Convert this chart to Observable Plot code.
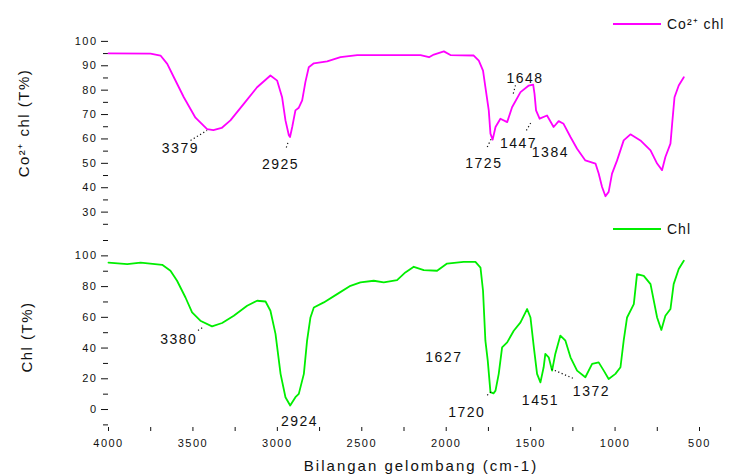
<!DOCTYPE html>
<html><head><meta charset="utf-8">
<script src="https://cdn.jsdelivr.net/npm/d3@7"></script>
<script src="https://cdn.jsdelivr.net/npm/@observablehq/plot@0.6"></script>
<style>
body{margin:0;background:#fff;font-family:"Liberation Sans",Arial,sans-serif;}
#wrap{position:relative;width:742px;height:475px;overflow:hidden;background:#fff;}
#topPanel,#botPanel{position:absolute;left:0;}
#topPanel{top:0}
#botPanel{top:237px}
.ylab{position:absolute;font-size:15px;letter-spacing:1.5px;white-space:nowrap;transform:translate(-50%,-50%) rotate(-90deg);color:#111;}
.xlab{position:absolute;font-size:15px;letter-spacing:2px;white-space:nowrap;transform:translate(-50%,-50%);color:#111;}
.leg{position:absolute;font-size:14px;letter-spacing:1px;white-space:nowrap;display:flex;align-items:center;color:#111;}
.leg span.sw{display:inline-block;width:48px;height:2px;margin-right:6px;}
</style>
</head><body>
<div id="wrap">
  <div id="topPanel"></div>
  <div id="botPanel"></div>
  <div class="ylab" style="left:23px;top:123px">Co²⁺ chl (T%)</div>
  <div class="ylab" style="left:26px;top:337px">Chl (T%)</div>
  <div class="xlab" style="left:421px;top:465px">Bilangan gelombang (cm-1)</div>
  <div class="leg" style="left:613px;top:14px"><span class="sw" style="background:#ff00ff"></span>Co²⁺ chl</div>
  <div class="leg" style="left:613px;top:221px"><span class="sw" style="background:#00ee00"></span>Chl</div>
</div>
<script>
// ---- Co2+ chlorophyll spectrum (top panel) ----
const coWave = [4000, 3751, 3692, 3652, 3613, 3554, 3485, 3416, 3379, 3330, 3278, 3199, 3120, 3041, 3001, 2972, 2952, 2932, 2925, 2912, 2893, 2873, 2853, 2834, 2814, 2784, 2705, 2626, 2527, 2152, 2102, 2073, 2014, 1975, 1837, 1807, 1782, 1768, 1748, 1738, 1725, 1708, 1679, 1639, 1610, 1560, 1511, 1485, 1477, 1468, 1447, 1403, 1364, 1334, 1305, 1264, 1225, 1176, 1116, 1097, 1077, 1057, 1038, 1018, 988, 949, 909, 850, 790, 751, 722, 702, 672, 662, 648, 623, 593];
const coT = [95.1, 95.0, 94.2, 90.8, 85.3, 77.1, 68.7, 64.0, 63.6, 64.5, 67.6, 74.4, 81.2, 86.0, 83.9, 77.1, 67.6, 61.5, 60.8, 64.9, 71.7, 72.8, 75.8, 83.3, 89.4, 91.0, 91.8, 93.5, 94.4, 94.4, 93.5, 94.6, 95.9, 94.4, 94.2, 92.1, 88.0, 81.2, 71.7, 62.2, 59.7, 64.9, 68.3, 66.9, 73.0, 79.2, 81.9, 82.3, 78.5, 71.7, 68.3, 69.6, 64.9, 67.3, 66.2, 60.8, 56.0, 51.2, 49.9, 45.8, 40.3, 36.5, 38.3, 45.8, 51.2, 59.4, 61.9, 59.4, 55.3, 49.9, 47.2, 52.6, 58.1, 66.2, 77.1, 81.9, 85.3];

// ---- Chlorophyll spectrum (bottom panel) ----
const chlWave = [4000, 3889, 3810, 3682, 3633, 3594, 3544, 3505, 3456, 3387, 3327, 3258, 3179, 3120, 3070, 3041, 3011, 2981, 2952, 2924, 2893, 2873, 2843, 2824, 2804, 2784, 2725, 2646, 2567, 2508, 2429, 2370, 2291, 2242, 2192, 2133, 2054, 1995, 1897, 1827, 1797, 1782, 1768, 1754, 1738, 1720, 1708, 1689, 1669, 1639, 1600, 1560, 1521, 1501, 1481, 1462, 1442, 1423, 1413, 1393, 1373, 1354, 1324, 1294, 1264, 1225, 1176, 1136, 1097, 1067, 1038, 998, 968, 949, 929, 889, 870, 830, 790, 751, 726, 702, 672, 653, 623, 593];
const chlT = [95.6, 94.6, 95.6, 94.2, 90.3, 83.8, 72.9, 63.2, 57.8, 54.1, 56.3, 61.0, 67.5, 70.8, 70.3, 64.3, 49.2, 23.2, 8.0, 2.6, 8.0, 10.2, 23.2, 44.8, 59.9, 66.4, 69.7, 75.1, 80.5, 82.7, 83.8, 82.7, 84.2, 89.2, 92.9, 90.7, 90.3, 95.0, 96.1, 96.1, 92.4, 77.3, 44.8, 31.8, 11.3, 10.5, 12.3, 23.2, 40.5, 43.7, 51.3, 56.7, 65.4, 59.9, 40.5, 23.2, 17.7, 27.5, 36.2, 34.0, 25.3, 36.2, 48.1, 44.8, 34.0, 25.3, 21.0, 29.7, 30.7, 25.3, 19.9, 23.2, 27.5, 44.8, 59.9, 68.6, 88.1, 87.0, 81.6, 59.9, 51.8, 61.0, 65.4, 81.6, 91.4, 96.8];

// ---- peak labels (text placed at data coordinates) ----
const coLabText = ["3379", "2925", "1725", "1648", "1447", "1384"];
const coLabWave = [3574, 2981, 1777, 1533, 1572, 1383];
const coLabT    = [56.0, 49.5, 49.9, 84.6, 58.1, 54.6];
const coLeadW1 = [3514, 2947, 1757, 1590, 1525];
const coLeadT1 = [59.4, 56.5, 56.7, 82.0, 63.5];
const coLeadW2 = [3416, 2935, 1728, 1605, 1500];
const coLeadT2 = [63.5, 59.0, 60.8, 78.0, 66.5];

const chlLabText = ["3380", "2924", "1627", "1720", "1451", "1372"];
const chlLabWave = [3584, 2869, 2014, 1878, 1442, 1140];
const chlLabT    = [45.5, -7.6, 34.0, -1.7, 5.8, 11.7];
const chlLeadW1 = [3470, 1757, 1377];
const chlLeadT1 = [51.5, 9.3, 26.4];
const chlLeadW2 = [3440, 1735, 1241];
const chlLeadT2 = [53.5, 11.5, 19.9];

// ---- axis ticks ----
const xMajor = [4000, 3500, 3000, 2500, 2000, 1500, 1000, 500];
const xMinor = [3750, 3250, 2750, 2250, 1750, 1250, 750];
const coYMajor = [30, 40, 50, 60, 70, 80, 90, 100];
const coYMinor = [25, 35, 45, 55, 65, 75, 85, 95];
const chlYMajor = [0, 20, 40, 60, 80, 100];
const chlYMinor = [-10, 10, 30, 50, 70, 90, 110];

const coData = coWave.map((w, i) => ({w, t: coT[i]}));
const chlData = chlWave.map((w, i) => ({w, t: chlT[i]}));
const coLabs = coLabText.map((s, i) => ({s, w: coLabWave[i], t: coLabT[i]}));
const chlLabs = chlLabText.map((s, i) => ({s, w: chlLabWave[i], t: chlLabT[i]}));
const coLeads = coLeadW1.map((w, i) => ({w1: w, t1: coLeadT1[i], w2: coLeadW2[i], t2: coLeadT2[i]}));
const chlLeads = chlLeadW1.map((w, i) => ({w1: w, t1: chlLeadT1[i], w2: chlLeadW2[i], t2: chlLeadT2[i]}));

const baseStyle = {fontSize: "11px", letterSpacing: "1.5px", fontFamily: "Liberation Sans, Arial, sans-serif", color: "#111", background: "transparent"};

const topChart = Plot.plot({
  width: 742, height: 237,
  marginLeft: 108, marginRight: 43, marginTop: 36, marginBottom: 1,
  x: {domain: [4000, 500], axis: null},
  y: {domain: [20, 102], axis: null},
  style: baseStyle,
  marks: [
    Plot.axisY({ticks: coYMajor, tickSize: 7, tickPadding: 4, tickFormat: d => String(d)}),
    Plot.axisY({ticks: coYMinor, tickSize: 5, tickFormat: () => ""}),
    Plot.line(coData, {x: "w", y: "t", stroke: "#ff00ff", strokeWidth: 1.8}),
    Plot.link(coLeads, {x1: "w1", y1: "t1", x2: "w2", y2: "t2", stroke: "#111", strokeWidth: 1.2, strokeDasharray: "1.2,2.5"}),
    Plot.text(coLabs, {x: "w", y: "t", text: "s", fontSize: 14, fill: "#111"})
  ]
});
document.getElementById("topPanel").appendChild(topChart);

const botChart = Plot.plot({
  width: 742, height: 238,
  marginLeft: 108, marginRight: 43, marginTop: 3, marginBottom: 48,
  x: {domain: [4000, 500], axis: null},
  y: {domain: [-11.7, 110], axis: null},
  style: baseStyle,
  marks: [
    Plot.axisY({ticks: chlYMajor, tickSize: 7, tickPadding: 4, tickFormat: d => String(d)}),
    Plot.axisY({ticks: chlYMinor, tickSize: 5, tickFormat: () => ""}),
    Plot.axisX({ticks: xMajor, tickSize: 4, tickPadding: 8, tickFormat: d => String(d), label: null}),
    Plot.axisX({ticks: xMinor, tickSize: 4, tickFormat: () => "", label: null}),
    Plot.line(chlData, {x: "w", y: "t", stroke: "#00ee00", strokeWidth: 1.8}),
    Plot.link(chlLeads, {x1: "w1", y1: "t1", x2: "w2", y2: "t2", stroke: "#111", strokeWidth: 1.2, strokeDasharray: "1.2,2.5"}),
    Plot.text(chlLabs, {x: "w", y: "t", text: "s", fontSize: 14, fill: "#111"})
  ]
});
document.getElementById("botPanel").appendChild(botChart);
</script>
</body></html>
